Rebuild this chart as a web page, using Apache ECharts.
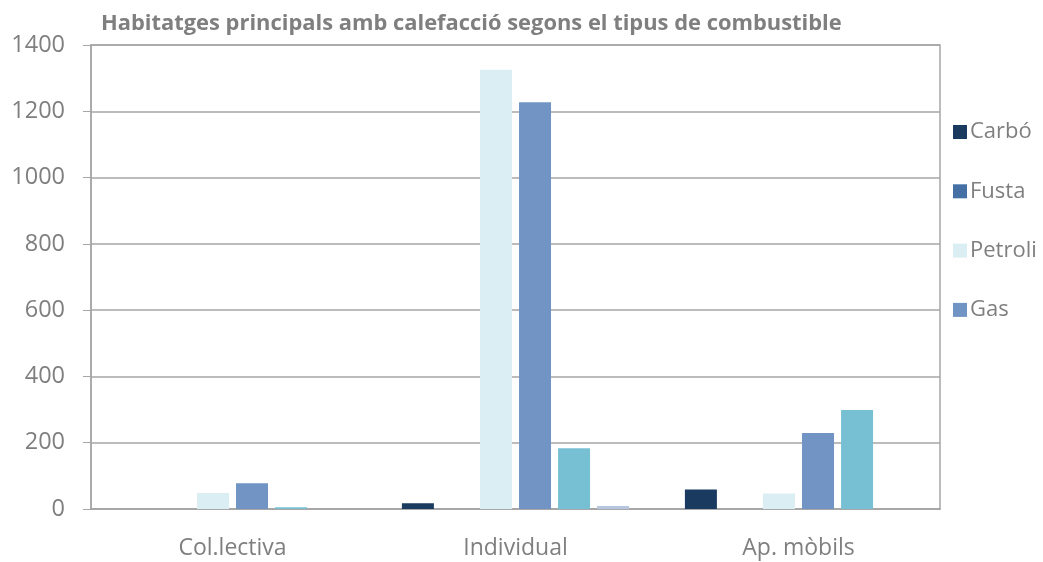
<!DOCTYPE html>
<html>
<head>
<meta charset="utf-8">
<script src="https://cdn.jsdelivr.net/npm/echarts@6/dist/echarts.min.js"></script>
<style>
  body { margin: 0; background: #fff; }
  #chart { width: 1043px; height: 562px; }
</style>
</head>
<body>
<div id="chart"></div>
<script>
const categories = ['Col.lectiva', 'Individual', 'Ap. mòbils'];
const carbo = [0, 17, 59];
const fusta = [0, 0, 0];
const petroli = [48, 1325, 47];
const gas = [78, 1227, 229];
const electricitat = [5, 183, 299];
const altres = [0, 9, 0];
const legendNames = ['Carbó', 'Fusta', 'Petroli', 'Gas'];

const grey = '#7f7f7f';
const lineColor = '#a6a6a6';
const font = 'Open Sans';

const chart = echarts.init(document.getElementById('chart'));

const mk = (name, data, color) => ({
  name,
  type: 'bar',
  data,
  barWidth: 32,
  barGap: '22%',
  barCategoryGap: '20%',
  itemStyle: { color }
});

chart.setOption({
  animation: false,
  backgroundColor: '#fff',
  title: {
    text: 'Habitatges principals amb calefacció segons el tipus de combustible',
    left: 96,
    top: 8,
    textStyle: { color: grey, fontSize: 21.9, fontWeight: 'bold', fontFamily: font }
  },
  legend: {
    data: legendNames,
    orient: 'vertical',
    left: 948,
    top: 116,
    itemGap: 37.3,
    itemWidth: 14,
    itemHeight: 14,
    icon: 'rect',
    textStyle: { color: grey, fontSize: 22, fontFamily: font, padding: [0, 0, 0, -2] }
  },
  grid: {
    left: 91, right: 103, top: 45, bottom: 53,
    show: true, borderColor: lineColor, borderWidth: 1.5
  },
  xAxis: {
    type: 'category',
    data: categories,
    axisLine: { lineStyle: { color: lineColor, width: 1.5 } },
    axisTick: { length: 10, lineStyle: { color: lineColor } },
    axisLabel: { color: grey, fontSize: 23, fontFamily: font, margin: 28 }
  },
  yAxis: {
    type: 'value',
    min: 0, max: 1400, interval: 200,
    axisLine: { show: true, lineStyle: { color: lineColor, width: 1.5 } },
    axisTick: { show: true, length: 8, lineStyle: { color: lineColor } },
    splitLine: { lineStyle: { color: lineColor, width: 1.5 } },
    axisLabel: { color: grey, fontSize: 23.5, fontFamily: font, margin: 26, formatter: v => String(v) }
  },
  series: [
    mk('Carbó', carbo, '#1b3a60'),
    mk('Fusta', fusta, '#4470a6'),
    mk('Petroli', petroli, '#dbeef4'),
    mk('Gas', gas, '#7294c4'),
    mk('Electricitat', electricitat, '#77c0d4'),
    mk('Altres', altres, '#b8c5de')
  ]
});
</script>
</body>
</html>
